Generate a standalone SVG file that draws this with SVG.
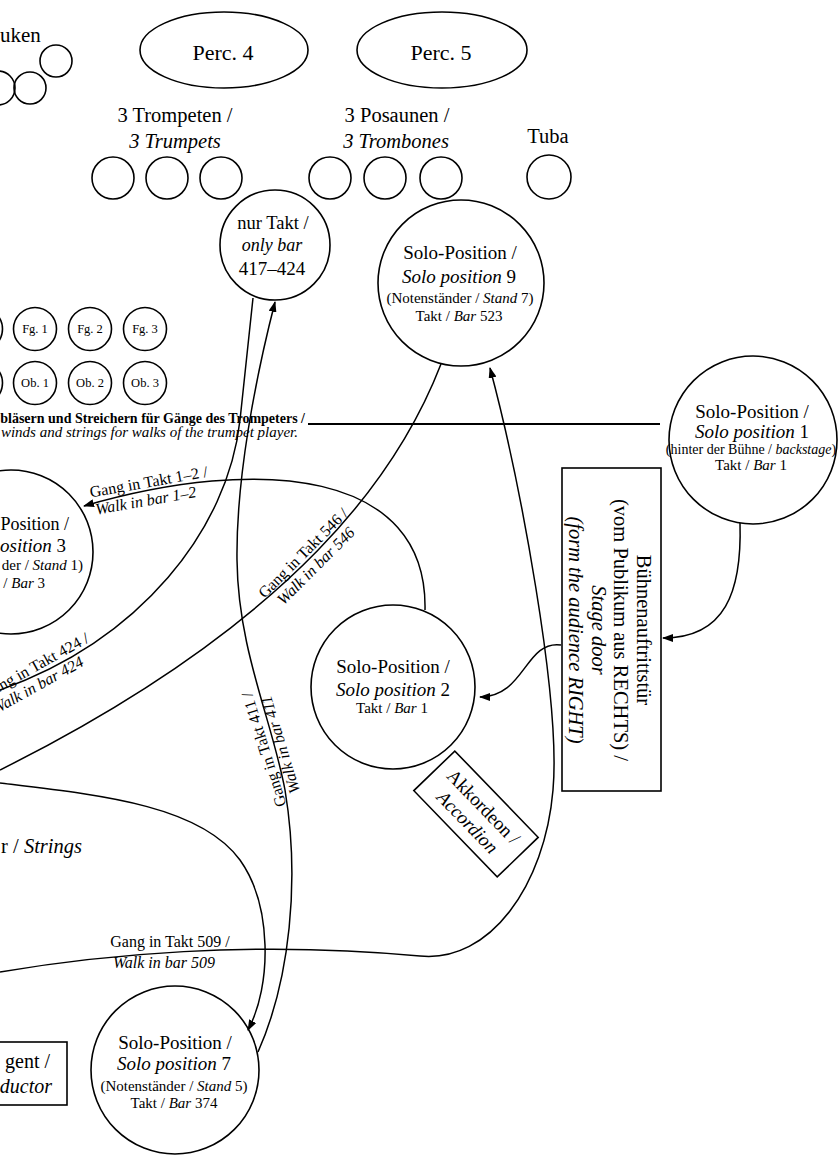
<svg xmlns="http://www.w3.org/2000/svg" width="840" height="1160" viewBox="0 0 840 1160">
<defs>
<marker id="arr" markerUnits="userSpaceOnUse" markerWidth="11" markerHeight="8" refX="10" refY="4" orient="auto">
<path d="M0,0 L11,4 L0,8 z" fill="#000"/>
</marker>
<style>
text{font-family:"Liberation Serif","Times New Roman",serif;fill:#000}
.it{font-style:italic}
.c{text-anchor:middle}
.e{text-anchor:end}
.big{font-size:19px}
.med{font-size:20.5px}
.sm{font-size:15px}
.lab{font-size:16px}
.ins{font-size:12.5px}
.shape{fill:none;stroke:#000;stroke-width:1.6}
.conn{fill:none;stroke:#000;stroke-width:1.5}
</style>
</defs>
<rect x="0" y="0" width="840" height="1160" fill="#fff"/>

<g id="pauken">
<text x="0" y="42" style="font-size:21px">uken</text>
<circle class="shape" cx="56" cy="61" r="16"/>
<circle class="shape" cx="30" cy="88" r="16"/>
<circle class="shape" cx="-2" cy="88" r="17"/>
</g>

<g id="perc4">
<ellipse class="shape" cx="224" cy="50" rx="84" ry="38"/>
<text class="c" x="223" y="60" style="font-size:22px">Perc. 4</text>
</g>
<g id="perc5">
<ellipse class="shape" cx="442" cy="50" rx="85" ry="38"/>
<text class="c" x="441" y="60" style="font-size:22px">Perc. 5</text>
</g>

<g id="trumpets">
<text class="c med" x="175" y="122">3 Trompeten /</text>
<text class="c med it" x="175" y="148">3 Trumpets</text>
<circle class="shape" cx="113" cy="178" r="21"/>
<circle class="shape" cx="167" cy="178" r="21"/>
<circle class="shape" cx="221" cy="178" r="21"/>
</g>
<g id="trombones">
<text class="c med" x="397" y="122">3 Posaunen /</text>
<text class="c med it" x="396" y="148">3 Trombones</text>
<circle class="shape" cx="330" cy="178" r="21"/>
<circle class="shape" cx="385" cy="178" r="21"/>
<circle class="shape" cx="441" cy="178" r="21"/>
</g>
<g id="tuba">
<text class="c med" x="548" y="143">Tuba</text>
<circle class="shape" cx="549" cy="177" r="22"/>
</g>

<g id="nurtakt">
<circle class="shape" cx="275" cy="245" r="55"/>
<text class="c" x="273" y="229" style="font-size:18.5px">nur Takt /</text>
<text class="c it" x="272" y="251" style="font-size:18px">only bar</text>
<text class="c" x="272" y="275" style="font-size:19px">417–424</text>
</g>

<g id="solo9">
<circle class="shape" cx="461" cy="283" r="83"/>
<text class="c big" x="460" y="259">Solo-Position /</text>
<text class="c big" x="459" y="283"><tspan class="it">Solo position</tspan><tspan> 9</tspan></text>
<text class="c sm" x="460" y="303"><tspan>(Notenständer / </tspan><tspan class="it">Stand</tspan><tspan> 7)</tspan></text>
<text class="c sm" x="459" y="321"><tspan>Takt / </tspan><tspan class="it">Bar</tspan><tspan> 523</tspan></text>
</g>

<g id="woodwinds">
<circle class="shape" cx="-19" cy="329" r="21.5"/>
<circle class="shape" cx="35" cy="329" r="21.5"/>
<circle class="shape" cx="90" cy="329" r="21.5"/>
<circle class="shape" cx="145" cy="329" r="21.5"/>
<text class="c ins" x="35" y="333">Fg. 1</text>
<text class="c ins" x="90" y="333">Fg. 2</text>
<text class="c ins" x="145" y="333">Fg. 3</text>
<circle class="shape" cx="-19" cy="383" r="21.5"/>
<circle class="shape" cx="35" cy="383" r="21.5"/>
<circle class="shape" cx="90" cy="383" r="21.5"/>
<circle class="shape" cx="145" cy="383" r="21.5"/>
<text class="c ins" x="35" y="387">Ob. 1</text>
<text class="c ins" x="90" y="387">Ob. 2</text>
<text class="c ins" x="145" y="387">Ob. 3</text>
</g>

<g id="aisle">
<text class="e" x="305" y="423" style="font-size:14px;font-weight:bold">bläsern und Streichern für Gänge des Trompeters /</text>
<text class="e it" x="298" y="437" style="font-size:15px">winds and strings for walks of the trumpet player.</text>
<path d="M308,424 H660" fill="none" stroke="#000" stroke-width="2"/>
</g>

<g id="solo1">
<circle class="shape" cx="753" cy="440" r="84"/>
<text class="c big" x="752" y="418">Solo-Position /</text>
<text class="c big" x="752" y="438"><tspan class="it">Solo position</tspan><tspan> 1</tspan></text>
<text class="c" x="751" y="454" style="font-size:14px"><tspan>(hinter der Bühne / </tspan><tspan class="it">backstage</tspan><tspan>)</tspan></text>
<text class="c sm" x="751" y="470"><tspan>Takt / </tspan><tspan class="it">Bar</tspan><tspan> 1</tspan></text>
</g>

<g id="stagedoor">
<rect class="shape" x="562" y="468" width="99" height="323"/>
<g transform="translate(630,630) rotate(90)" style="font-size:20.5px">
<text class="c" x="0" y="-7">Bühnenauftrittstür</text>
<text class="c" x="0" y="16">(vom Publikum aus RECHTS) /</text>
<text class="c it" x="0" y="38">Stage door</text>
<text class="c it" x="0" y="61">(form the audience RIGHT)</text>
</g>
</g>

<g id="solo3">
<circle class="shape" cx="11" cy="552" r="82"/>
<text class="e" x="69" y="530" style="font-size:18px">Position /</text>
<text class="e big" x="66" y="552"><tspan class="it">osition</tspan><tspan> 3</tspan></text>
<text class="e sm" x="83" y="570"><tspan>der / </tspan><tspan class="it">Stand</tspan><tspan> 1)</tspan></text>
<text class="e sm" x="45" y="588"><tspan>/ </tspan><tspan class="it">Bar</tspan><tspan> 3</tspan></text>
</g>

<g id="solo2">
<circle class="shape" cx="393" cy="687" r="82"/>
<text class="c big" x="393" y="673">Solo-Position /</text>
<text class="c big" x="393" y="696"><tspan class="it">Solo position</tspan><tspan> 2</tspan></text>
<text class="c sm" x="392" y="713"><tspan>Takt / </tspan><tspan class="it">Bar</tspan><tspan> 1</tspan></text>
</g>

<g id="accordion" transform="translate(476,814) rotate(46)">
<rect class="shape" x="-60" y="-28.5" width="120" height="57"/>
<text class="c" x="0" y="-4" style="font-size:19px">Akkordeon /</text>
<text class="c it" x="0" y="18" style="font-size:19px">Accordion</text>
</g>

<g id="strings">
<text class="e med" x="82" y="853"><tspan>r / </tspan><tspan class="it">Strings</tspan></text>
</g>

<g id="conductor">
<rect class="shape" x="-10" y="1042" width="77" height="63"/>
<text class="e" x="50" y="1068" style="font-size:20px">gent /</text>
<text class="e it" x="52" y="1093" style="font-size:20px">ductor</text>
</g>

<g id="solo7">
<circle class="shape" cx="175" cy="1070" r="84"/>
<text class="c big" x="175" y="1049">Solo-Position /</text>
<text class="c big" x="174" y="1070"><tspan class="it">Solo position</tspan><tspan> 7</tspan></text>
<text class="c sm" x="174" y="1091"><tspan>(Notenständer / </tspan><tspan class="it">Stand</tspan><tspan> 5)</tspan></text>
<text class="c sm" x="174" y="1108"><tspan>Takt / </tspan><tspan class="it">Bar</tspan><tspan> 374</tspan></text>
</g>

<g id="connectors">
<path class="conn" d="M740,523 C742,592 725,638 663,638" marker-end="url(#arr)"/>
<path class="conn" d="M561,645 C525,640 525,697 480,697" marker-end="url(#arr)"/>
<path class="conn" d="M425,610 C428,470 260,455 84,506" marker-end="url(#arr)"/>
<path class="conn" d="M258,1052 C290,980 300,880 285,790 C272,720 238,650 237,560 C236,480 255,380 275,302" marker-end="url(#arr)"/>
<path class="conn" d="M253,298 L240,420 C228,530 140,640 0,690"/>
<path class="conn" d="M441,364 C400,470 300,620 0,770"/>
<path class="conn" d="M0,783 C100,795 200,805 240,860 C272,905 272,985 248,1030" marker-end="url(#arr)"/>
<path class="conn" d="M0,972 C100,955 250,940 420,956 C490,963 545,885 553,790 C561,700 520,480 490,368" marker-end="url(#arr)"/>
</g>

<g id="connector-labels" class="lab">
<g transform="translate(150,490) rotate(-10)">
<text class="c" x="0" y="-3">Gang in Takt 1–2 /</text>
<text class="c it" x="-6" y="15">Walk in bar 1–2</text>
</g>
<g transform="translate(309,559) rotate(-45)">
<text class="c" x="0" y="-3">Gang in Takt 546 /</text>
<text class="c it" x="0" y="15">Walk in bar 546</text>
</g>
<g transform="translate(85,649) rotate(-29)">
<text class="e" x="8" y="-4">Gang in Takt 424 /</text>
<text class="e it" x="-8" y="14">Walk in bar 424</text>
</g>
<g transform="translate(273,747) rotate(-107)">
<text class="c" x="0" y="-4">Gang in Takt 411 /</text>
<text class="c it" x="0" y="13">Walk in bar 411</text>
</g>
<text class="c" x="170" y="947">Gang in Takt 509 /</text>
<text class="c it" x="164" y="968">Walk in bar 509</text>
</g>
</svg>
